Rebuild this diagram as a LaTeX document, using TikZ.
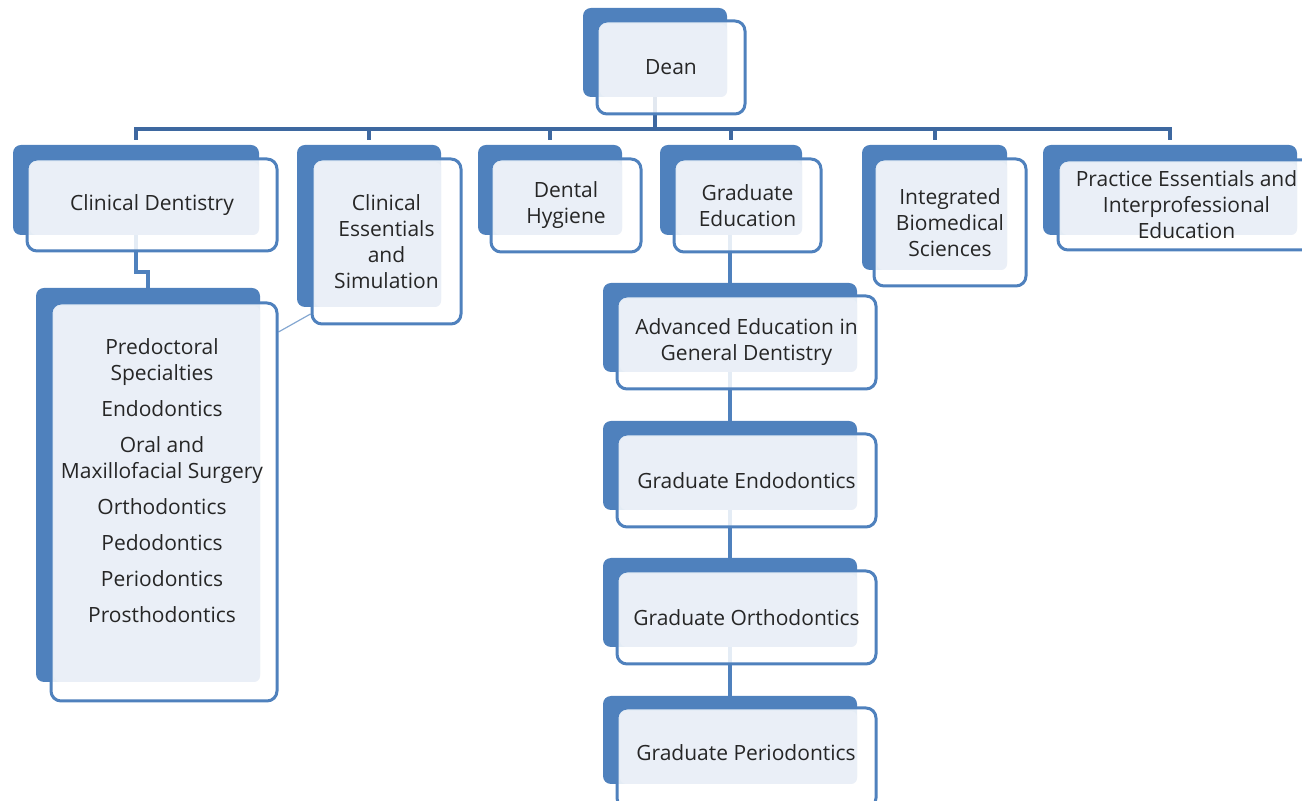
\documentclass[tikz,border=0pt]{standalone}
\usepackage{fontspec}
\setmainfont{Open Sans}
\usepackage{xcolor}
\usetikzlibrary{backgrounds,fit}

\definecolor{boxblue}{RGB}{79,129,189}
\definecolor{busblue}{RGB}{62,104,160}
\definecolor{boxlight}{RGB}{234,239,247}
\definecolor{textgray}{RGB}{38,38,38}

\begin{document}
\begin{tikzpicture}[x=0.5pt,y=-0.5pt]
      \tikzstyle{unit_back}=[fill=boxblue, rounded corners=4pt, inner sep=0pt]
      \tikzstyle{unit_front}=[draw=boxblue, line width=1.5pt, fill=white, fill opacity=0.85, rounded corners=5pt, inner sep=0pt]
      \tikzstyle{unit_light}=[fill=boxlight, rounded corners=3pt, inner sep=0pt]
      \tikzstyle{unit_text}=[align=center, text=textgray, font=\fontsize{10.5}{13}\selectfont]
      \tikzstyle{bus_line}=[draw=busblue, line width=2pt]
      \tikzstyle{unit_link}=[draw=boxblue, line width=2pt]
      \tikzstyle{thin_link}=[draw=boxblue!70, line width=0.6pt]

      \useasboundingbox (0,0) rectangle (1302,801);
      \clip (0,0) rectangle (1302,801);

      % top
      \node (dean_back) [unit_back, fit={(583,8) (727,97)}] {};
      \node (dean_front) [unit_front, fit={(597,21) (745,114)}] {};
      \node (dean_light) [unit_light, fit={(600,24) (727,97)}] {};
      \node at (dean_front) [unit_text] {Dean};

      % departments
      \node (clin_back) [unit_back, fit={(13,145) (259,235)}] {};
      \node (clin_front) [unit_front, fit={(27,159) (277,251)}] {};
      \node (clin_light) [unit_light, fit={(30,162) (259,235)}] {};
      \node at (clin_front) [unit_text] {Clinical Dentistry};

      \node (cess_back) [unit_back, fit={(297,145) (441,307)}] {};
      \node (cess_front) [unit_front, fit={(312,159) (461,324)}] {};
      \node (cess_light) [unit_light, fit={(315,162) (441,307)}] {};
      \node at (cess_front) [unit_text] {Clinical\\Essentials\\and\\Simulation};

      \node (hyg_back) [unit_back, fit={(478,145) (622,235)}] {};
      \node (hyg_front) [unit_front, fit={(491,159) (641,252)}] {};
      \node (hyg_light) [unit_light, fit={(494,162) (622,235)}] {};
      \node at (hyg_front) [unit_text] {Dental\\Hygiene};

      \node (grad_back) [unit_back, fit={(660,145) (802,235)}] {};
      \node (grad_front) [unit_front, fit={(674,159) (821,252)}] {};
      \node (grad_light) [unit_light, fit={(677,162) (802,235)}] {};
      \node at (grad_front) [unit_text] {Graduate\\Education};

      \node (ibs_back) [unit_back, fit={(862,145) (1007,270)}] {};
      \node (ibs_front) [unit_front, fit={(874,159) (1026,286)}] {};
      \node (ibs_light) [unit_light, fit={(877,162) (1007,270)}] {};
      \node at (ibs_front) [unit_text] {Integrated\\Biomedical\\Sciences};

      \node (pe_back) [unit_back, fit={(1043,145) (1297,235)}] {};
      \node (pe_front) [unit_front, fit={(1058,160) (1315,250)}] {};
      \node (pe_light) [unit_light, fit={(1061,163) (1297,235)}] {};
      \node at (pe_front) [unit_text] {Practice Essentials and\\Interprofessional\\Education};

      % clinical dentistry sections
      \node (pre_back) [unit_back, fit={(36,288) (260,682)}] {};
      \node (pre_front) [unit_front, fit={(51,303) (277,701)}] {};
      \node (pre_light) [unit_light, fit={(54,306) (260,682)}] {};
      \node at (162,481) [unit_text] {Predoctoral\\Specialties\\[5pt]Endodontics\\[5pt]Oral and\\Maxillofacial Surgery\\[5pt]Orthodontics\\[5pt]Pedodontics\\[5pt]Periodontics\\[5pt]Prosthodontics};

      % graduate programs
      \node (aegd_back) [unit_back, fit={(603,283) (857,372)}] {};
      \node (aegd_front) [unit_front, fit={(617,296) (876,389)}] {};
      \node (aegd_light) [unit_light, fit={(620,299) (857,372)}] {};
      \node at (aegd_front) [unit_text] {Advanced Education in\\General Dentistry};

      \node (gendo_back) [unit_back, fit={(603,421) (857,510)}] {};
      \node (gendo_front) [unit_front, fit={(617,434) (876,527)}] {};
      \node (gendo_light) [unit_light, fit={(620,437) (857,510)}] {};
      \node at (gendo_front) [unit_text] {Graduate Endodontics};

      \node (gortho_back) [unit_back, fit={(603,558) (857,647)}] {};
      \node (gortho_front) [unit_front, fit={(617,571) (876,664)}] {};
      \node (gortho_light) [unit_light, fit={(620,574) (857,647)}] {};
      \node at (gortho_front) [unit_text] {Graduate Orthodontics};

      \node (gperio_back) [unit_back, fit={(603,696) (857,784)}] {};
      \node (gperio_front) [unit_front, fit={(617,708) (876,808)}] {};
      \node (gperio_light) [unit_light, fit={(620,711) (857,784)}] {};
      \node at (746,753) [unit_text] {Graduate Periodontics};

      \begin{scope}[on background layer]
        \coordinate (bus) at (655,129);
        \draw[bus_line] (dean_back.south) -- (bus);
        \draw[bus_line] (clin_back.north |- bus) ++(0,11) -- ++(0,-11) -- (pe_back.north |- bus) -- ++(0,11);
        \draw[bus_line] (cess_back.north |- bus) -- ++(0,11)
                        (hyg_back.north |- bus) -- ++(0,11)
                        (grad_back.north |- bus) -- ++(0,11)
                        (ibs_back.north |- bus) -- ++(0,11);

        \draw[unit_link] (clin_back.south) -- ++(0,37) -| (pre_back.north);
        \draw[thin_link] (pre_front.east |- 0,332) -- (cess_front.west |- 0,314);

        \draw[unit_link] (aegd_back.north |- grad_back.south) -- (aegd_back.north);
        \draw[unit_link] (aegd_back.south) -- (gendo_back.north);
        \draw[unit_link] (gendo_back.south) -- (gortho_back.north);
        \draw[unit_link] (gortho_back.south) -- (gperio_back.north);
      \end{scope}
\end{tikzpicture}
\end{document}
